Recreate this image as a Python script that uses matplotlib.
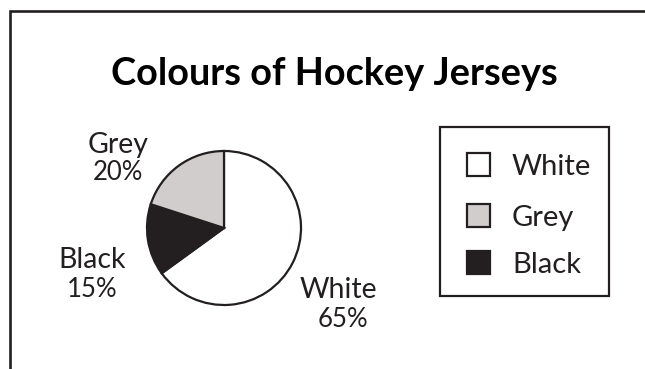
import matplotlib
matplotlib.use("Agg")
import matplotlib.pyplot as plt
from matplotlib.patches import Rectangle
from matplotlib.lines import Line2D

# Chart data
title = "Colours of Hockey Jerseys"
categories = ["White", "Black", "Grey"]
percentages = [65, 15, 20]
legend_order = ["White", "Grey", "Black"]

INK = "#231f20"
fills = {"White": "#ffffff", "Black": "#231f20", "Grey": "#d2cdcd"}

W, H = 645, 369
fig = plt.figure(figsize=(W / 100, H / 100), dpi=100)
fig.patch.set_facecolor("white")
ax = fig.add_axes([0, 0, 1, 1])
FONT = "Lato"


def py(y):
    """Convert a top-down pixel row into the axes' bottom-up coordinate."""
    return H - y


# Pie, starting at 12 o'clock and running clockwise
wedges, _ = ax.pie(
    percentages,
    colors=[fills[c] for c in categories],
    startangle=90,
    counterclock=False,
    center=(224, py(228)),
    radius=77,
    wedgeprops=dict(edgecolor=INK, linewidth=1.6),
)
ax.set_xlim(0, W)
ax.set_ylim(0, H)
ax.set_aspect("equal")
ax.axis("off")

# Open frame: top and left rules
ax.add_line(Line2D([10, 10, W + 10], [py(H + 10), py(11), py(11)], color=INK,
                   linewidth=1.9, solid_capstyle="butt", solid_joinstyle="miter"))

# Title
ax.text(334, py(85), title, ha="center", va="baseline", fontsize=27.3,
        fontweight="bold", color="black", family=FONT)

# Slice labels: name above, percentage below
label_pos = {
    "Grey": ((118, 153), (118, 180)),
    "Black": ((92, 268), (92, 297)),
    "White": ((338, 298), (343, 327)),
}
for cat, pct in zip(categories, percentages):
    (nx, ny), (vx, vy) = label_pos[cat]
    ax.text(nx, py(ny), cat, ha="center", va="baseline", fontsize=20.5,
            color=INK, family=FONT)
    ax.text(vx, py(vy), f"{pct}%", ha="center", va="baseline", fontsize=18.5,
            color=INK, family=FONT)

# Legend box
ax.add_patch(Rectangle((440, py(296)), 169, 169, facecolor="white",
                       edgecolor=INK, linewidth=1.6))
rows = {"White": 164, "Grey": 215, "Black": 262}
for cat in legend_order:
    cy = rows[cat]
    ax.add_patch(Rectangle((467, py(cy + 11.5)), 23, 23, facecolor=fills[cat],
                           edgecolor=INK, linewidth=1.6))
    ax.text(512, py(cy + 11), cat, ha="left", va="baseline", fontsize=21,
            color=INK, family=FONT)

fig.savefig("out.png", dpi=100, facecolor="white")
